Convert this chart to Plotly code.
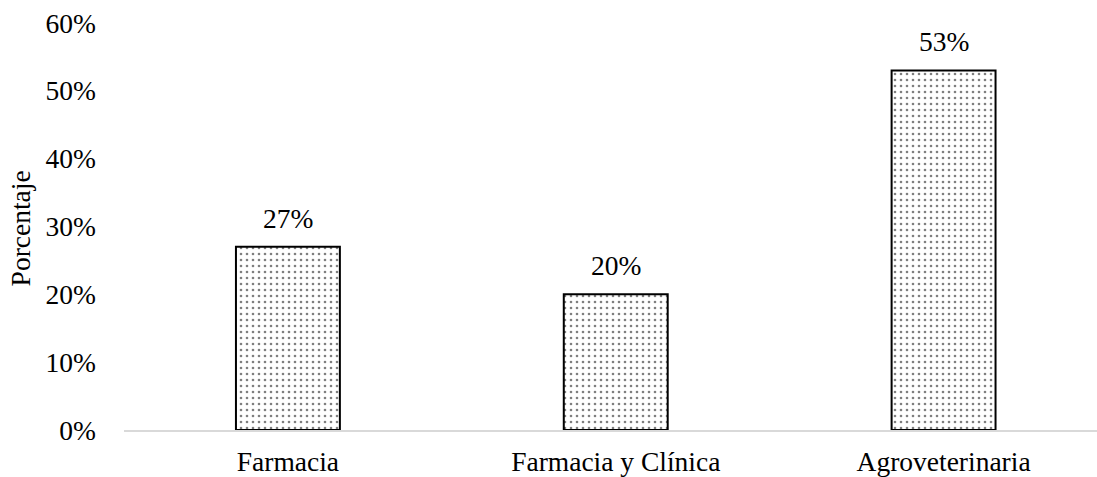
import plotly.graph_objects as go

categories = ["Farmacia", "Farmacia y Clínica", "Agroveterinaria"]
values = [0.27, 0.20, 0.53]
value_labels = ["27%", "20%", "53%"]
y_ticks = [0, 0.1, 0.2, 0.3, 0.4, 0.5, 0.6]
y_tick_labels = ["0%", "10%", "20%", "30%", "40%", "50%", "60%"]
y_title = "Porcentaje"

FONT = "Liberation Serif"
FS = 27.5
x_pos = list(range(len(categories)))

fig = go.Figure()
fig.add_trace(go.Bar(
    x=x_pos,
    y=values,
    width=0.317,
    marker=dict(
        color="white",
        line=dict(color="black", width=2),
        pattern=dict(shape=".", fgcolor="black", bgcolor="white", size=6, solidity=0.15),
    ),
    hoverinfo="skip",
))

for xi, v, lab in zip(x_pos, values, value_labels):
    fig.add_annotation(x=xi, y=v, text=lab, showarrow=False, xanchor="center",
                       yanchor="bottom", yshift=11,
                       font=dict(family=FONT, size=FS, color="black"))

fig.add_annotation(xref="paper", yref="paper", x=-0.106, y=0.495, text=y_title,
                   textangle=-90, showarrow=False, xanchor="center", yanchor="middle",
                   font=dict(family=FONT, size=FS, color="black"))

fig.update_layout(
    width=1097, height=477,
    margin=dict(l=124, r=0, t=23, b=45),
    paper_bgcolor="white", plot_bgcolor="white",
    showlegend=False,
    font=dict(family=FONT, size=FS, color="black"),
    xaxis=dict(
        range=[-0.5, 2.468],
        tickvals=x_pos, ticktext=categories,
        showgrid=False, zeroline=False,
        showline=True, linecolor="#d9d9d9", linewidth=1.5,
        ticks="", ticklabelstandoff=6,
        tickfont=dict(family=FONT, size=FS, color="black"),
    ),
    yaxis=dict(
        range=[0, 0.6],
        tickvals=y_ticks, ticktext=y_tick_labels,
        showgrid=False, zeroline=False, showline=False,
        ticks="", ticklabelstandoff=27,
        tickfont=dict(family=FONT, size=FS, color="black"),
    ),
)

fig.write_html("out.html", config={"displayModeBar": False},
               post_script="document.body.style.margin='0';")
